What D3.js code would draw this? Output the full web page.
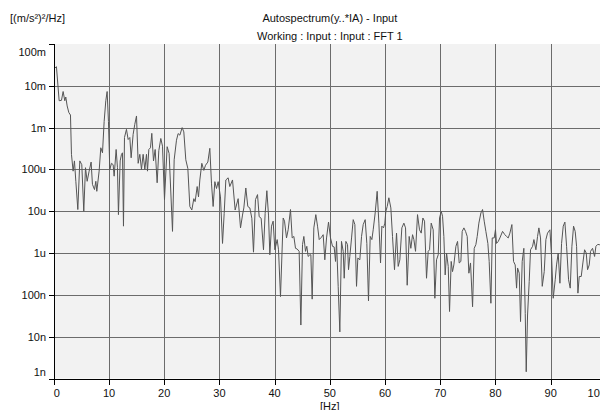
<!DOCTYPE html>
<html lang="en">
<head>
    <meta charset="UTF-8">
    <title>Autospectrum</title>
    <style>
        body { margin: 0; background: #fff; }
        svg { display: block; overflow: hidden; }
        text { font-family: "Liberation Sans", Arial, sans-serif; font-size: 11px; fill: #111; }
        .grid line { stroke: #6c6c6c; stroke-width: 1; shape-rendering: crispEdges; }
        .axis line, .axis path { stroke: #000; shape-rendering: crispEdges; }
    </style>
    <script src="https://d3js.org/d3.v7.min.js"></script>
</head>
<body>
    <svg width="600" height="410"></svg>
    <script>
        // frequency (Hz) and autospectrum value ((m/s²)²/Hz)
        const freqHz = [
            0.18, 0.48, 0.97, 1.39, 1.69, 1.99, 2.17, 2.42, 2.72, 3.02, 3.2, 3.5, 3.74, 3.99, 4.35, 4.71, 5.07, 5.43, 5.74, 6.04,
            6.4, 6.76, 7.0, 7.37, 7.61, 7.79, 8.21, 8.51, 8.82, 9.12, 9.42, 9.66, 9.9, 10.14, 10.45, 10.75, 10.93, 11.29, 11.53, 11.71,
            12.02, 12.26, 12.44, 12.62, 12.8, 13.16, 13.47, 13.77, 14.01, 14.37, 14.67, 14.98, 15.28, 15.58, 15.88, 16.18, 16.49, 16.79, 16.97, 17.21,
            17.51, 17.75, 18.06, 18.36, 18.72, 19.02, 19.38, 19.69, 20.05, 20.53, 20.89, 21.5, 21.8, 22.22, 22.52, 22.83, 23.25, 23.55, 23.91, 24.28,
            24.64, 25.0, 25.36, 25.6, 25.97, 26.21, 26.45, 26.81, 27.17, 27.48, 27.9, 28.26, 28.56, 28.86, 29.17, 29.47, 29.77, 30.19, 30.56, 30.86,
            31.16, 31.58, 31.88, 32.37, 32.85, 33.39, 33.82, 34.18, 34.42, 34.78, 35.14, 35.51, 35.87, 36.17, 36.53, 36.9, 37.2, 37.56, 37.98, 38.28,
            38.59, 38.89, 39.13, 39.43, 39.73, 40.04, 40.46, 40.7, 41.06, 41.55, 41.79, 42.15, 42.45, 42.87, 43.18, 43.48, 43.78, 44.08, 44.44, 44.75,
            45.05, 45.29, 45.59, 45.83, 46.07, 46.38, 46.56, 46.8, 47.1, 47.46, 47.77, 48.07, 48.49, 48.79, 49.09, 49.4, 49.76, 50.12, 50.48, 50.78,
            51.03, 51.21, 51.51, 51.81, 52.11, 52.42, 52.6, 52.9, 53.2, 53.38, 53.62, 53.93, 54.23, 54.53, 54.83, 55.07, 55.43, 55.74, 56.04, 56.4,
            56.7, 57.0, 57.31, 57.61, 57.85, 58.21, 58.57, 58.88, 59.18, 59.42, 59.72, 59.96, 60.14, 60.39, 60.69, 61.05, 61.35, 61.71, 62.08, 62.38,
            62.68, 63.04, 63.41, 63.71, 64.01, 64.37, 64.67, 64.98, 65.22, 65.52, 65.88, 66.24, 66.55, 66.85, 67.15, 67.51, 67.81, 68.06, 68.36, 68.72,
            69.02, 69.32, 69.63, 69.87, 70.17, 70.41, 70.65, 70.89, 71.14, 71.44, 71.68, 71.98, 72.22, 72.46, 72.83, 73.13, 73.43, 73.73, 73.97, 74.28,
            74.58, 74.88, 75.18, 75.48, 75.85, 76.15, 76.45, 76.69, 76.99, 77.36, 77.66, 77.96, 78.26, 78.62, 78.86, 79.17, 79.41, 79.77, 80.0, 80.19,
            80.5, 80.8, 81.28, 81.7, 82.0, 82.31, 82.61, 82.97, 83.27, 83.57, 83.82, 84.0, 84.3, 84.54, 84.84, 85.14, 85.39, 85.57, 85.81, 86.11,
            86.35, 86.72, 86.96, 87.32, 87.62, 87.86, 88.16, 88.47, 88.83, 89.13, 89.43, 89.86, 90.16, 90.46, 90.82, 91.06, 91.36, 91.67, 91.97, 92.27,
            92.57, 92.88, 93.24, 93.54, 93.84, 94.14, 94.44, 94.69, 94.93, 95.17, 95.53, 95.83, 96.14, 96.44, 96.68, 96.98, 97.22, 97.58, 97.95, 98.19,
            98.49, 98.79, 99.3
        ];
        const psd = [
            2.65e-2, 2.86e-2, 4.4e-3, 4.5e-3, 7.3e-3, 4.4e-3, 5.4e-3, 3.3e-3, 2.3e-3, 2.0e-3, 2.3e-4, 9.1e-5, 1.6e-4, 5.2e-5, 1.1e-5, 1.6e-4, 1.3e-4, 1.0e-5, 1.1e-4, 5.2e-5,
            9.1e-5, 1.5e-4, 4.4e-5, 3.3e-5, 5.2e-5, 3.0e-5, 9.1e-5, 3.3e-4, 2.5e-4, 1.4e-3, 4.4e-3, 7.3e-3, 1.4e-3, 1.0e-4, 1.4e-4, 1.3e-4, 6.9e-5, 3.0e-4, 1.1e-4, 8.3e-6,
            1.6e-4, 2.3e-4, 2.5e-4, 4.4e-6, 5.8e-4, 9.1e-4, 5.2e-4, 5.8e-4, 1.9e-4, 6.9e-4, 1.2e-3, 1.9e-3, 1.4e-4, 2.3e-4, 1.0e-4, 2.3e-4, 1.0e-4, 2.3e-4, 9.1e-5, 3.0e-4,
            3.3e-4, 7.3e-4, 1.6e-4, 3.0e-4, 4.8e-5, 2.8e-4, 5.5e-4, 3.6e-4, 1.9e-5, 3.5e-4, 2.4e-4, 3.3e-6, 1.7e-4, 5.0e-4, 7.2e-4, 6.6e-4, 1.0e-3, 7.9e-4, 1.7e-4, 1.05e-4,
            1.3e-5, 1.07e-5, 2.0e-5, 1.7e-5, 3.9e-5, 2.2e-5, 5.6e-5, 1.4e-4, 9.5e-5, 1.26e-4, 1.5e-4, 3.2e-4, 4.7e-5, 1.3e-5, 5.1e-5, 3.5e-5, 5.1e-5, 2.2e-5, 1.7e-6, 8.9e-6,
            5.6e-5, 6.3e-5, 3.9e-5, 5.6e-5, 1.07e-5, 2.0e-5, 4.0e-6, 8.1e-6, 1.2e-5, 3.6e-5, 1.3e-5, 1.2e-5, 6.8e-6, 1.05e-6, 1.9e-5, 2.5e-5, 7.4e-6, 6.8e-6, 1.2e-6, 8.9e-6,
            3.1e-5, 8.1e-6, 9.1e-7, 4.4e-6, 5.8e-6, 1.2e-6, 2.1e-6, 1.2e-6, 9.1e-8, 6.9e-6, 5.8e-6, 2.3e-6, 3.6e-6, 1.1e-5, 2.3e-6, 2.5e-6, 1.3e-6, 1.25e-6, 1.1e-6, 1.9e-8,
            1.6e-6, 2.5e-6, 1.1e-6, 1.45e-6, 8.3e-7, 9.1e-7, 9.1e-7, 7.9e-8, 4.0e-6, 8.3e-6, 4.4e-6, 2.1e-6, 2.4e-6, 2.75e-6, 6.9e-7, 2.3e-6, 5.5e-6, 2.3e-6, 1.45e-6, 1.4e-6,
            6.3e-7, 1.9e-6, 1.6e-7, 1.3e-8, 1.9e-6, 1.1e-6, 2.5e-7, 1.9e-6, 1.6e-6, 4.0e-7, 8.3e-7, 2.3e-6, 6.3e-6, 4.8e-6, 1.6e-7, 7.6e-7, 6.9e-7, 2.5e-6, 4.8e-6, 6.3e-6,
            1.7e-6, 7.2e-8, 2.5e-6, 2.1e-6, 3.6e-6, 9.1e-6, 3.0e-5, 5.2e-6, 5.8e-7, 4.4e-6, 4.0e-6, 5.2e-6, 1.0e-5, 1.3e-5, 2.1e-5, 1.2e-5, 2.5e-6, 4.0e-7, 3.0e-6, 4.8e-7,
            6.9e-7, 4.0e-6, 5.2e-6, 4.0e-6, 1.7e-7, 2.5e-6, 1.3e-6, 2.75e-6, 2.1e-6, 1.1e-6, 8.3e-6, 3.6e-6, 3.0e-6, 6.9e-6, 5.8e-6, 2.5e-7, 1.1e-6, 1.2e-6, 5.2e-6, 3.6e-6,
            8.3e-8, 6.9e-7, 9.1e-7, 6.9e-6, 1.0e-5, 7.6e-6, 2.5e-6, 3.0e-7, 1.0e-6, 4.8e-7, 4.0e-8, 6.3e-7, 3.6e-7, 5.2e-7, 1.45e-6, 1.9e-6, 5.8e-7, 6.3e-7, 3.3e-6, 4.0e-6,
            3.3e-6, 2.5e-6, 3.3e-7, 5.8e-7, 5.2e-8, 1.3e-6, 1.6e-6, 2.5e-6, 5.2e-6, 9.1e-6, 1.1e-5, 5.8e-6, 3.3e-6, 1.7e-6, 6.3e-7, 6.3e-8, 2.3e-6, 2.3e-6, 3.6e-6, 1.7e-6,
            1.9e-6, 2.3e-6, 3.3e-6, 2.75e-6, 2.5e-6, 2.3e-6, 3.0e-6, 4.8e-6, 6.3e-7, 5.2e-7, 1.45e-7, 4.4e-7, 3.3e-7, 2.3e-8, 6.3e-7, 1.3e-6, 3.6e-8, 1.45e-9, 3.3e-8, 2.1e-7,
            1.2e-6, 1.45e-6, 2.1e-6, 1.2e-6, 2.5e-6, 4.0e-6, 2.3e-6, 1.6e-7, 3.6e-7, 2.1e-6, 3.0e-6, 3.6e-6, 8.3e-7, 8.3e-8, 2.3e-7, 5.2e-7, 1.0e-6, 1.9e-7, 1.7e-6, 4.4e-6,
            5.5e-6, 1.45e-6, 2.3e-7, 1.45e-7, 1.45e-6, 4.4e-6, 3.3e-6, 1.45e-6, 1.1e-7, 2.75e-7, 2.75e-7, 5.8e-7, 1.2e-6, 1.0e-6, 4.0e-7, 5.2e-7, 1.1e-6, 1.3e-6, 8.3e-7, 1.45e-6,
            1.6e-6, 1.6e-6, 1.4e-6
        ];

        const xTicks = [0, 10, 20, 30, 40, 50, 60, 70, 80, 90, 100];
        const yTicks = [1e-9, 1e-8, 1e-7, 1e-6, 1e-5, 1e-4, 1e-3, 1e-2, 1e-1];
        const yTickLabels = ["1n", "10n", "100n", "1u", "10u", "100u", "1m", "10m", "100m"];

        const plotLeft = 53.8, plotRight = 605.9, plotTop = 44, plotBottom = 378.5;

        const svg = d3.select("svg");

        const x = d3.scaleLinear().domain([0, 100]).range([plotLeft, plotRight]);
        const y = d3.scaleLog().domain([1e-9, 1e-1]).range([plotBottom, plotTop]);
        const px = v => Math.round(v) + 0.5;

        // plot background
        svg.append("rect")
            .attr("x", px(plotLeft)).attr("y", plotTop)
            .attr("width", plotRight - plotLeft).attr("height", plotBottom - plotTop)
            .attr("fill", "#f2f2f2");

        // grid
        const grid = svg.append("g").attr("class", "grid");
        grid.selectAll("line.v")
            .data(xTicks.slice(1))
            .enter().append("line")
            .attr("x1", d => px(x(d))).attr("x2", d => px(x(d)))
            .attr("y1", plotTop).attr("y2", plotBottom);
        grid.selectAll("line.h")
            .data(yTicks.slice(1, -1))
            .enter().append("line")
            .attr("x1", px(plotLeft)).attr("x2", plotRight)
            .attr("y1", d => px(y(d))).attr("y2", d => px(y(d)));

        // trace
        const line = d3.line()
            .x((d, i) => x(freqHz[i]))
            .y(d => y(d));

        svg.append("path")
            .datum(psd)
            .attr("fill", "none")
            .attr("stroke", "#555")
            .attr("stroke-width", 1)
            .attr("stroke-linejoin", "round")
            .attr("d", line);

        // y axis
        const yAxis = svg.append("g").attr("class", "axis");
        yAxis.append("line")
            .attr("x1", px(plotLeft)).attr("x2", px(plotLeft))
            .attr("y1", plotTop).attr("y2", plotBottom + 1);
        yAxis.selectAll("line.tick")
            .data(yTicks)
            .enter().append("line")
            .attr("x1", px(plotLeft) - 6).attr("x2", px(plotLeft))
            .attr("y1", d => px(y(d))).attr("y2", d => px(y(d)));
        yAxis.selectAll("text")
            .data(yTicks)
            .enter().append("text")
            .attr("x", 46)
            .attr("text-anchor", "end")
            .attr("y", (d, i) => {
                if (i === yTicks.length - 1) return y(d) + 12;
                if (i === 0) return y(d) - 2.5;
                return y(d) + 4;
            })
            .text((d, i) => yTickLabels[i]);

        // x axis
        const xAxis = svg.append("g").attr("class", "axis");
        xAxis.append("line")
            .attr("x1", px(plotLeft) - 6).attr("x2", 600)
            .attr("y1", px(plotBottom)).attr("y2", px(plotBottom));
        xAxis.selectAll("line.tick")
            .data(xTicks)
            .enter().append("line")
            .attr("x1", d => px(x(d))).attr("x2", d => px(x(d)))
            .attr("y1", px(plotBottom)).attr("y2", px(plotBottom) + 5);
        xAxis.selectAll("text")
            .data(xTicks)
            .enter().append("text")
            .attr("x", d => x(d))
            .attr("y", 397)
            .attr("text-anchor", (d, i) => i === 0 ? "start" : (i === xTicks.length - 1 ? "end" : "middle"))
            .text(d => d);

        // titles
        const cx = (plotLeft + plotRight) / 2;
        svg.append("text").attr("x", cx).attr("y", 409.5).attr("text-anchor", "middle").text("[Hz]");
        svg.append("text").attr("x", 10).attr("y", 22).text("[(m/s²)²/Hz]");
        svg.append("text").attr("x", cx).attr("y", 22).attr("text-anchor", "middle").text("Autospectrum(y..*IA) - Input");
        svg.append("text").attr("x", cx).attr("y", 40).attr("text-anchor", "middle").text("Working : Input : Input : FFT 1");
    </script>
</body>
</html>
